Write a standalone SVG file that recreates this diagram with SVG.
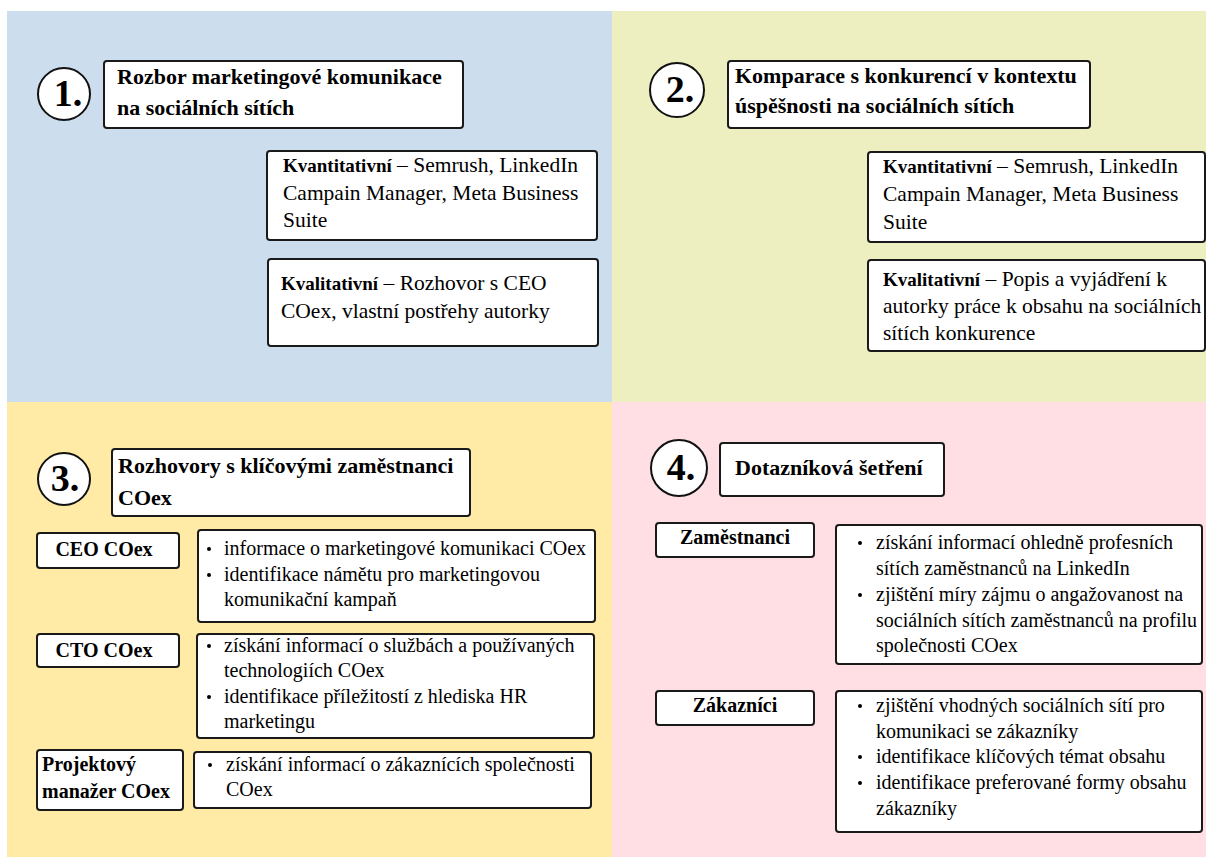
<svg xmlns="http://www.w3.org/2000/svg" width="1206" height="858" viewBox="0 0 1206 858">
<style>
  .box { fill: #ffffff; stroke: #1a1a1a; stroke-width: 2; }
  .circ { fill: #ffffff; stroke: #111111; stroke-width: 2; }
  .num { font-family: "Liberation Serif", "Times New Roman", serif; font-weight: bold; font-size: 38px; fill: #000; text-anchor: middle; }
  .title { font-family: "Liberation Serif", "Times New Roman", serif; font-weight: bold; font-size: 22px; fill: #000; }
  .b1 { font-family: "Liberation Serif", "Times New Roman", serif; font-size: 21.5px; fill: #000; }
  .b2 { font-family: "Liberation Serif", "Times New Roman", serif; font-size: 20px; fill: #000; }
  .lab { font-family: "Liberation Serif", "Times New Roman", serif; font-weight: bold; font-size: 20px; fill: #000; }
  .bold { font-weight: bold; font-size: 19px; }
  .dot { fill: #000; }
</style>
<rect x="0" y="0" width="1206" height="858" fill="#ffffff"/>
<g id="backgrounds">
  <rect x="7" y="11" width="605" height="391" fill="#CCDEEE"/>
  <rect x="612" y="11" width="594" height="391" fill="#EDEFC1"/>
  <rect x="7" y="402" width="605" height="455" fill="#FFEBA6"/>
  <rect x="612" y="402" width="594" height="455" fill="#FFDFE3"/>
</g>

<!-- Quadrant 1 -->
<g id="q1-number">
  <circle class="circ" cx="64" cy="94" r="26"/>
  <text class="num" x="68" y="106">1.</text>
</g>
<g id="q1-title">
  <rect class="box" x="104" y="61" width="359" height="67" rx="3"/>
  <text class="title" x="117" y="84">Rozbor marketingové komunikace</text>
  <text class="title" x="117" y="115">na sociálních sítích</text>
</g>
<g id="q1-quant">
  <rect class="box" x="267" y="151" width="330" height="89" rx="3"/>
  <text class="b1" x="283" y="172"><tspan class="bold">Kvantitativní</tspan> – Semrush, LinkedIn</text>
  <text class="b1" x="283" y="200">Campain Manager, Meta Business</text>
  <text class="b1" x="283" y="227">Suite</text>
</g>
<g id="q1-qual">
  <rect class="box" x="268" y="259" width="330" height="87" rx="3"/>
  <text class="b1" x="281" y="290"><tspan class="bold">Kvalitativní</tspan> – Rozhovor s CEO</text>
  <text class="b1" x="281" y="318">COex, vlastní postřehy autorky</text>
</g>

<!-- Quadrant 2 -->
<g id="q2-number">
  <circle class="circ" cx="677" cy="90" r="27"/>
  <text class="num" x="680" y="102">2.</text>
</g>
<g id="q2-title">
  <rect class="box" x="728" y="61" width="362" height="67" rx="3"/>
  <text class="title" x="735" y="83">Komparace s konkurencí v kontextu</text>
  <text class="title" x="735" y="113">úspěšnosti na sociálních sítích</text>
</g>
<g id="q2-quant">
  <rect class="box" x="868" y="152" width="337" height="90" rx="3"/>
  <text class="b1" x="883" y="173"><tspan class="bold">Kvantitativní</tspan> – Semrush, LinkedIn</text>
  <text class="b1" x="883" y="201">Campain Manager, Meta Business</text>
  <text class="b1" x="883" y="229">Suite</text>
</g>
<g id="q2-qual">
  <rect class="box" x="868" y="260" width="337" height="91" rx="3"/>
  <text class="b1" x="883" y="286"><tspan class="bold">Kvalitativní</tspan> – Popis a vyjádření k</text>
  <text class="b1" x="883" y="313">autorky práce k obsahu na sociálních</text>
  <text class="b1" x="883" y="340">sítích konkurence</text>
</g>

<!-- Quadrant 3 -->
<g id="q3-number">
  <circle class="circ" cx="64" cy="479" r="26"/>
  <text class="num" x="65" y="491">3.</text>
</g>
<g id="q3-title">
  <rect class="box" x="112" y="449" width="358" height="67" rx="3"/>
  <text class="title" x="118" y="473">Rozhovory s klíčovými zaměstnanci</text>
  <text class="title" x="118" y="505">COex</text>
</g>
<g id="q3-ceo">
  <rect class="box" x="37" y="533" width="142" height="35" rx="3"/>
  <text class="lab" x="104" y="556" text-anchor="middle">CEO COex</text>
</g>
<g id="q3-ceo-items">
  <rect class="box" x="198" y="530" width="397" height="92" rx="3"/>
  <circle class="dot" cx="209" cy="549" r="2"/>
  <text class="b2" x="224" y="555">informace o marketingové komunikaci COex</text>
  <circle class="dot" cx="209" cy="575" r="2"/>
  <text class="b2" x="224" y="581">identifikace námětu pro marketingovou</text>
  <text class="b2" x="224" y="606">komunikační kampaň</text>
</g>
<g id="q3-cto">
  <rect class="box" x="37" y="634" width="142" height="33" rx="3"/>
  <text class="lab" x="104" y="657" text-anchor="middle">CTO COex</text>
</g>
<g id="q3-cto-items">
  <rect class="box" x="197" y="634" width="397" height="104" rx="3"/>
  <circle class="dot" cx="209" cy="646" r="2"/>
  <text class="b2" x="224" y="652">získání informací o službách a používaných</text>
  <text class="b2" x="224" y="677">technologiích COex</text>
  <circle class="dot" cx="209" cy="697" r="2"/>
  <text class="b2" x="224" y="703">identifikace příležitostí z hlediska HR</text>
  <text class="b2" x="224" y="728">marketingu</text>
</g>
<g id="q3-pm">
  <rect class="box" x="37" y="750" width="146" height="60" rx="3"/>
  <text class="lab" x="42" y="771">Projektový</text>
  <text class="lab" x="42" y="798">manažer COex</text>
</g>
<g id="q3-pm-items">
  <rect class="box" x="194" y="752" width="397" height="56" rx="3"/>
  <circle class="dot" cx="210" cy="765" r="2"/>
  <text class="b2" x="226" y="771">získání informací o zákaznících společnosti</text>
  <text class="b2" x="226" y="796">COex</text>
</g>

<!-- Quadrant 4 -->
<g id="q4-number">
  <circle class="circ" cx="679" cy="468" r="28"/>
  <text class="num" x="681" y="480">4.</text>
</g>
<g id="q4-title">
  <rect class="box" x="720" y="443" width="224" height="53" rx="3"/>
  <text class="title" x="735" y="475">Dotazníková šetření</text>
</g>
<g id="q4-employees">
  <rect class="box" x="656" y="523" width="158" height="34" rx="3"/>
  <text class="lab" x="735" y="544" text-anchor="middle">Zaměstnanci</text>
</g>
<g id="q4-employees-items">
  <rect class="box" x="836" y="525" width="366" height="139" rx="3"/>
  <circle class="dot" cx="860" cy="543" r="2"/>
  <text class="b2" x="876" y="549">získání informací ohledně profesních</text>
  <text class="b2" x="876" y="575">sítích zaměstnanců na LinkedIn</text>
  <circle class="dot" cx="860" cy="595" r="2"/>
  <text class="b2" x="876" y="601">zjištění míry zájmu o angažovanost na</text>
  <text class="b2" x="876" y="627">sociálních sítích zaměstnanců na profilu</text>
  <text class="b2" x="876" y="652">společnosti COex</text>
</g>
<g id="q4-customers">
  <rect class="box" x="656" y="691" width="158" height="34" rx="3"/>
  <text class="lab" x="735" y="712" text-anchor="middle">Zákazníci</text>
</g>
<g id="q4-customers-items">
  <rect class="box" x="836" y="691" width="366" height="141" rx="3"/>
  <circle class="dot" cx="860" cy="706" r="2"/>
  <text class="b2" x="876" y="712">zjištění vhodných sociálních sítí pro</text>
  <text class="b2" x="876" y="738">komunikaci se zákazníky</text>
  <circle class="dot" cx="860" cy="757" r="2"/>
  <text class="b2" x="876" y="763">identifikace klíčových témat obsahu</text>
  <circle class="dot" cx="860" cy="783" r="2"/>
  <text class="b2" x="876" y="789">identifikace preferované formy obsahu</text>
  <text class="b2" x="876" y="815">zákazníky</text>
</g>
</svg>
